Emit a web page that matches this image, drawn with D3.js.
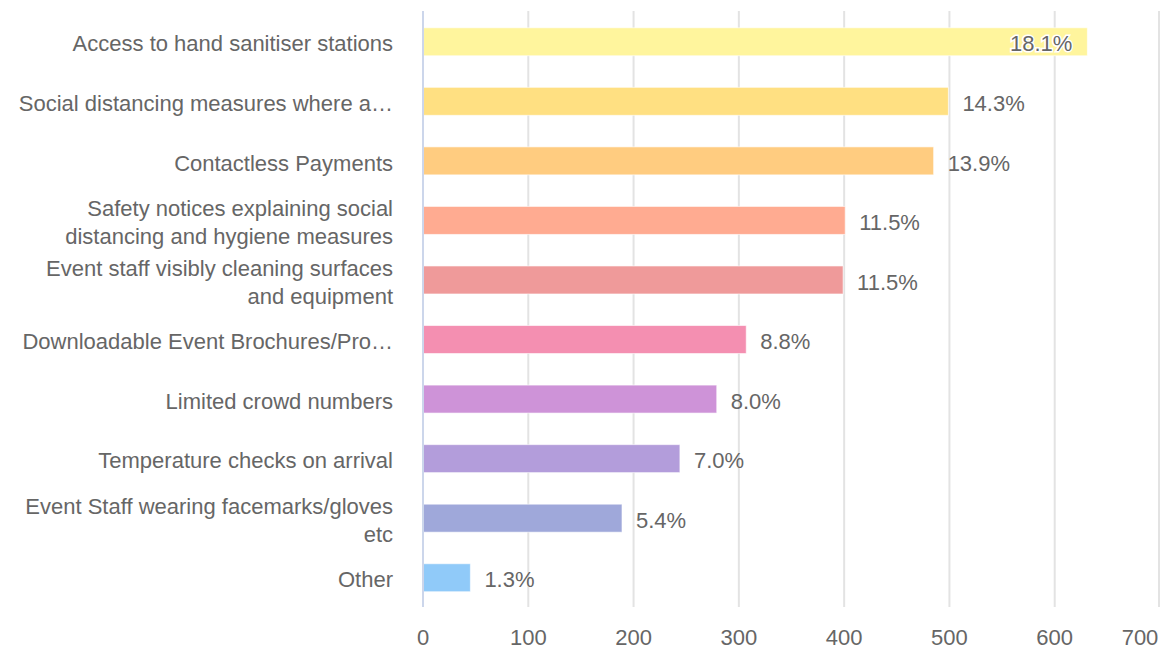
<!DOCTYPE html>
<html>
<head>
<meta charset="utf-8">
<script src="https://cdn.jsdelivr.net/npm/d3@7"></script>
<style>
    body { margin: 0; background: #fff; }
    text { font-family: "Liberation Sans", Arial, sans-serif; fill: #666; }
</style>
</head>
<body>
<div id="chart"></div>
<script>
// categories as shown on the chart (long ones wrap onto two lines, some are cut)
const categories = [
    ['Access to hand sanitiser stations'],
    ['Social distancing measures where a\u2026'],
    ['Contactless Payments'],
    ['Safety notices explaining social', 'distancing and hygiene measures'],
    ['Event staff visibly cleaning surfaces', 'and equipment'],
    ['Downloadable Event Brochures/Pro\u2026'],
    ['Limited crowd numbers'],
    ['Temperature checks on arrival'],
    ['Event Staff wearing facemarks/gloves', 'etc'],
    ['Other']
];
const counts = [631, 499, 485, 401, 399, 307, 279, 244, 189, 45];
const barColors = ['#fff59d', '#ffe082', '#ffcc80', '#ffab91', '#ef9a9a',
                   '#f48fb1', '#ce93d8', '#b39ddb', '#9fa8da', '#90caf9'];
const xTicks = [0, 100, 200, 300, 400, 500, 600, 700];

const width = 1160, height = 648;
const fontSize = 22;

const svg = d3.select('#chart').append('svg')
    .attr('width', width)
    .attr('height', height);

const x = d3.scaleLinear().domain([0, 700]).range([423, 1160]);
const y = d3.scaleBand()
    .domain(d3.range(categories.length))
    .range([12, 607.5])
    .paddingInner(0.53)
    .paddingOuter(0.265);

const total = d3.sum(counts);

// gridlines
svg.append('g')
    .selectAll('line')
    .data(xTicks.slice(1))
    .join('line')
    .attr('x1', d => x(d) - (d === 700 ? 1 : 0))
    .attr('x2', d => x(d) - (d === 700 ? 1 : 0))
    .attr('y1', 11)
    .attr('y2', 607)
    .attr('stroke', '#e3e3e3')
    .attr('stroke-width', 2);

// tick labels
svg.append('g')
    .selectAll('text')
    .data(xTicks)
    .join('text')
    .attr('x', d => Math.min(x(d), width - 20))
    .attr('y', 637)
    .attr('dy', '0.35em')
    .attr('text-anchor', 'middle')
    .style('font-size', fontSize + 'px')
    .text(d => d);

// bars
svg.append('g')
    .selectAll('rect')
    .data(counts)
    .join('rect')
    .attr('x', x(0))
    .attr('y', (d, i) => y(i))
    .attr('width', d => x(d) - x(0))
    .attr('height', y.bandwidth())
    .attr('fill', (d, i) => barColors[i])
    .attr('stroke', 'rgba(255,255,255,0.6)')
    .attr('stroke-width', 1);

// axis line
svg.append('line')
    .attr('x1', x(0)).attr('x2', x(0))
    .attr('y1', 11).attr('y2', 607)
    .attr('stroke', '#ccd6eb')
    .attr('stroke-width', 2);

// category labels
const catLabels = svg.append('g')
    .selectAll('text')
    .data(categories)
    .join('text')
    .attr('text-anchor', 'end')
    .style('font-size', fontSize + 'px')
    .attr('y', (d, i) => y(i) + y.bandwidth() / 2 + 2);

catLabels.each(function (lines) {
    const t = d3.select(this);
    const lineH = 28;
    lines.forEach((line, k) => {
        t.append('tspan')
            .attr('x', x(0) - 30)
            .attr('dy', k === 0 ? ((-(lines.length - 1) / 2) * lineH / fontSize + 0.35) + 'em' : lineH + 'px')
            .text(line);
    });
});

// value labels, outside the bar unless they would run off the chart
svg.append('g')
    .selectAll('text')
    .data(counts)
    .join('text')
    .style('font-size', fontSize + 'px')
    .attr('y', (d, i) => y(i) + y.bandwidth() / 2 + 2)
    .attr('dy', '0.35em')
    .text(d => (d / total * 100).toFixed(1) + '%')
    .each(function (d) {
        const t = d3.select(this);
        const w = this.getComputedTextLength();
        if (x(d) + 14 + w > width) {
            t.attr('x', x(d) - 15)
                .attr('text-anchor', 'end')
                .attr('stroke', '#fff')
                .attr('stroke-width', 3)
                .attr('paint-order', 'stroke');
        } else {
            t.attr('x', x(d) + 14);
        }
    });
</script>
</body>
</html>
